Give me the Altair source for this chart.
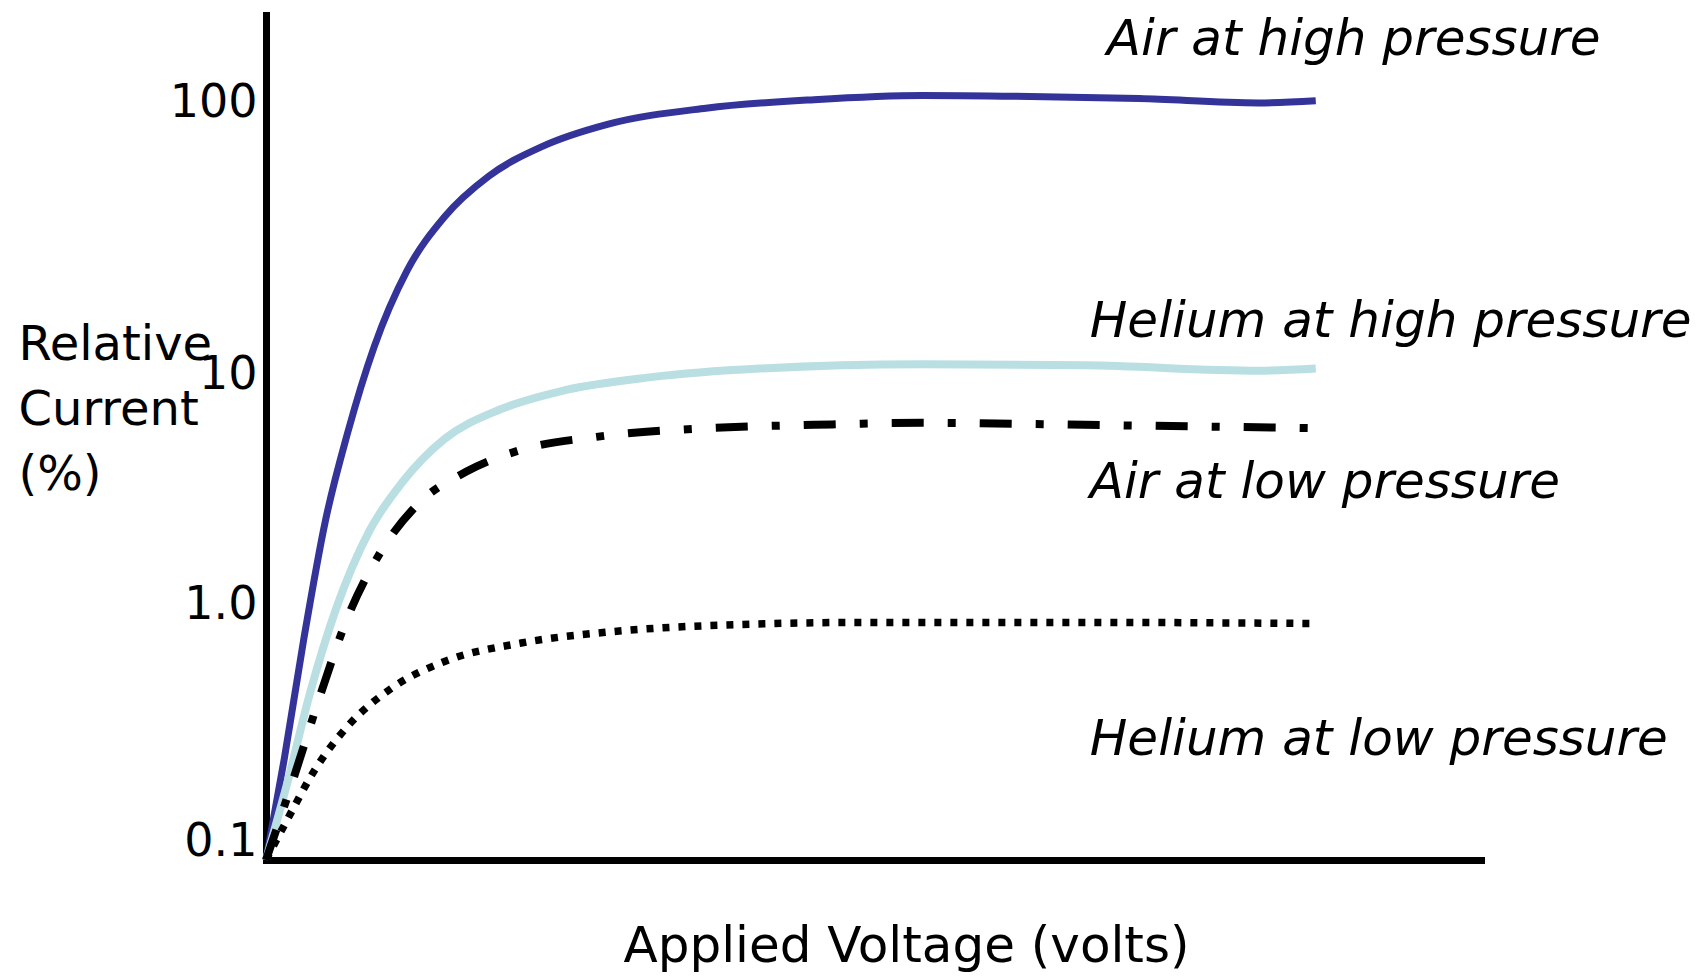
import altair as alt
import pandas as pd

# Applied voltage in arbitrary units (0-100 across the x axis)
AIR_HIGH_X = [0, 1.5, 3.1, 4.9, 6.7, 8.9, 11.6, 14.7, 18.3, 22.8, 28.1, 36.2, 45.1, 54.0, 62.9, 71.9, 81.7, 86.4]
AIR_HIGH_Y = [0.1, 0.251, 0.746, 2.22, 4.89, 10.8, 21.6, 35.4, 51.1, 67.4, 82.2, 95.3, 103, 107, 106, 104, 100, 102]

HE_HIGH_X = [0, 1.8, 3.6, 5.8, 8.5, 11.2, 14.7, 19.2, 24.6, 31.7, 40.6, 54.0, 67.4, 81.7, 86.4]
HE_HIGH_Y = [0.1, 0.206, 0.455, 1.00, 2.01, 3.13, 4.66, 6.08, 7.27, 8.19, 8.86, 9.22, 9.13, 8.69, 8.86]

AIR_LOW_X = [0, 2.2, 4.5, 6.7, 9.4, 12.5, 16.5, 21.0, 27.2, 36.2, 45.1, 54.0, 67.4, 86.4]
AIR_LOW_Y = [0.1, 0.206, 0.455, 0.910, 1.65, 2.57, 3.46, 4.22, 4.75, 5.14, 5.30, 5.40, 5.30, 5.14]

HE_LOW_X = [0, 1.8, 4.0, 6.7, 10.3, 14.7, 21.0, 28.1, 36.2, 49.6, 67.4, 86.4]
HE_LOW_Y = [0.1, 0.146, 0.227, 0.338, 0.478, 0.612, 0.724, 0.800, 0.848, 0.874, 0.874, 0.865]

SERIES = ["Air at high pressure", "Helium at high pressure", "Air at low pressure", "Helium at low pressure"]
LABEL_X = [69.2, 67.8, 67.8, 67.8]
LABEL_Y = [177.8, 13.6, 3.12, 0.299]

TICK_VALUES = [0.1, 1, 10, 100]
TICK_LABELS = ["0.1", "1.0", "10", "100"]

FONT = "DejaVu Sans"

rows = []
for name, xs, ys in zip(SERIES, [AIR_HIGH_X, HE_HIGH_X, AIR_LOW_X, HE_LOW_X],
                        [AIR_HIGH_Y, HE_HIGH_Y, AIR_LOW_Y, HE_LOW_Y]):
    for i, (x, y) in enumerate(zip(xs, ys)):
        rows.append({"series": name, "voltage": x, "current": y, "order": i})
df = pd.DataFrame(rows)
labels_df = pd.DataFrame({"series": SERIES, "voltage": LABEL_X, "current": LABEL_Y})

label_expr = " : ".join(
    f"datum.value == {v} ? '{t}'" for v, t in zip(TICK_VALUES, TICK_LABELS)
) + " : ''"

x_scale = alt.Scale(domain=[0, 100], nice=False, zero=False)
y_scale = alt.Scale(type="log", domain=[0.1, 223], nice=False)

x_enc = alt.X("voltage:Q", scale=x_scale,
              axis=alt.Axis(labels=False, ticks=False, grid=False, domainColor="black",
                            domainWidth=7, domainCap="square",
                            title="Applied Voltage (volts)", titleFont=FONT, titleFontSize=50,
                            titleFontWeight="normal", titleColor="black",
                            titleX=640, titleY=86, titleBaseline="middle"))
y_enc = alt.Y("current:Q", scale=y_scale,
              axis=alt.Axis(values=TICK_VALUES, labelExpr=label_expr, ticks=False, tickSize=0,
                            grid=False, domainColor="black", domainWidth=7, domainCap="square",
                            labelFont=FONT, labelFontSize=46, labelColor="black",
                            labelPadding=9, labelFlush=True,
                            labelOffset={"condition": [
                                {"test": "datum.value == 10", "value": 19},
                                {"test": "datum.value == 0.1", "value": 5},
                                {"test": "datum.value == 1", "value": -3},
                            ], "value": 0},
                            title=["Relative", "Current", "(%)"], titleFont=FONT, titleFontSize=48,
                            titleFontWeight="normal", titleColor="black", titleAngle=0,
                            titleAlign="left", titleBaseline="top", titleLineHeight=65,
                            titleX=-248, titleY=306))

def line(name, color, width, dash=None):
    kw = dict(color=color, strokeWidth=width, interpolate="monotone", strokeCap="butt")
    if dash:
        kw["strokeDash"] = dash
    return alt.Chart(df).transform_filter(alt.datum.series == name).mark_line(**kw).encode(
        x=x_enc, y=y_enc, order="order:Q")

lines = [
    line(SERIES[0], "#333399", 7),
    line(SERIES[1], "#b9dfe3", 8),
    line(SERIES[2], "black", 8, [32, 24, 8, 24]),
    line(SERIES[3], "black", 7.5, [7, 9]),
]

text = alt.Chart(labels_df).mark_text(
    font=FONT, fontSize=50, fontStyle="italic", align="left", baseline="middle", color="black"
).encode(x=alt.X("voltage:Q", scale=x_scale), y=alt.Y("current:Q", scale=y_scale), text="series:N")

chart = alt.layer(*lines, text).properties(
    width=1215, height=845,
    autosize=alt.AutoSizeParams(type="none"),
    padding={"left": 258, "top": 7, "right": 212, "bottom": 118},
).configure_view(stroke=None)

chart.save("out.html", embed_options={"renderer": "svg", "actions": False})
